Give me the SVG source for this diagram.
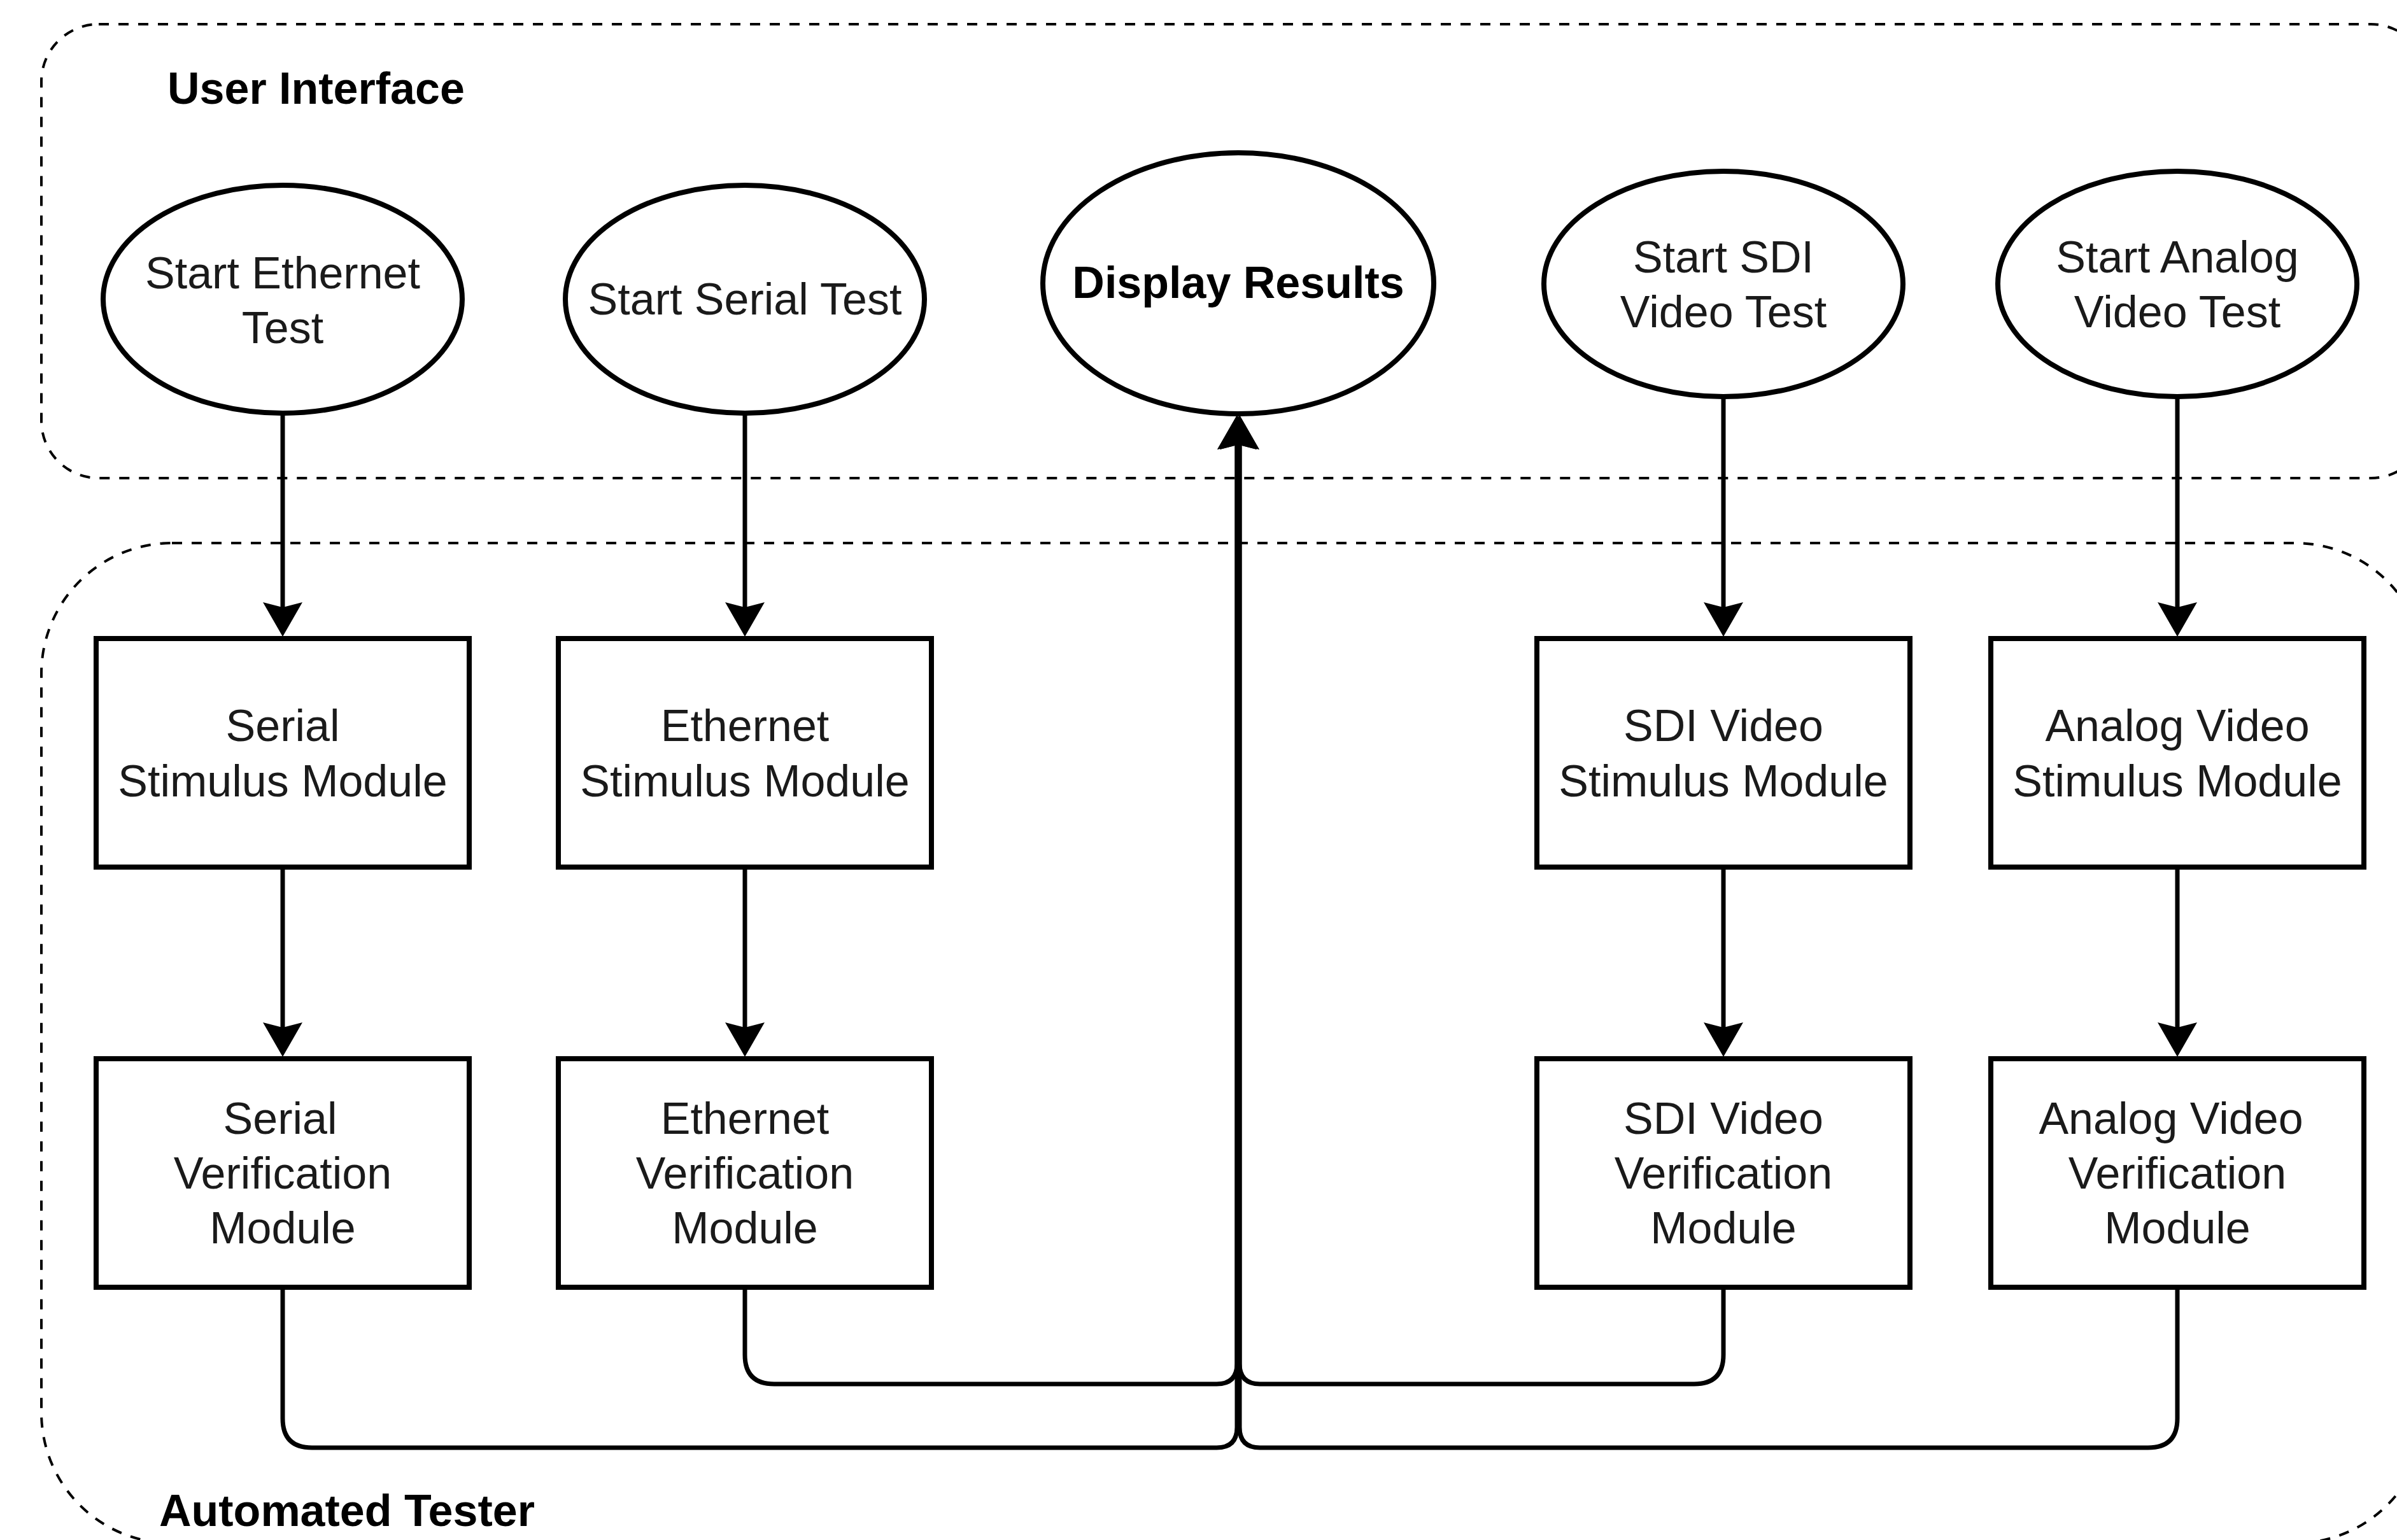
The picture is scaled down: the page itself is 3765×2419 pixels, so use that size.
<svg xmlns="http://www.w3.org/2000/svg" width="3765" height="2419" viewBox="0 0 3765 2419">
<style>
.container{fill:none;stroke:#000;stroke-width:4;stroke-dasharray:16 15}
.node{fill:#fff;stroke:#000;stroke-width:8}
.edge{fill:none;stroke:#000;stroke-width:7}
.lbl{font-family:"Liberation Sans",Arial,sans-serif;font-size:70px;fill:#1a1a1a;text-anchor:middle}
.bold{font-family:"Liberation Sans",Arial,sans-serif;font-size:70px;font-weight:bold;fill:#000}
</style>
<defs>
<marker id="arrow" markerUnits="userSpaceOnUse" viewBox="0 0 54 62" markerWidth="54" markerHeight="62" refX="8" refY="31" orient="auto">
<path d="M0,0 L54,31 L0,62 L8,31 Z" fill="#000"/>
</marker>
</defs>
<rect width="3765" height="2419" fill="#fff"/>

<g id="user-interface">
<rect class="container" x="65" y="38" width="3749" height="713" rx="90" ry="90"/>
<text class="bold" x="263" y="163">User Interface</text>
</g>

<g id="automated-tester">
<rect class="container" x="65" y="853" width="3745" height="1571" rx="205" ry="205"/>
<text class="bold" x="250" y="2397">Automated Tester</text>
</g>

<g id="connectors">
<path class="edge" d="M444,649 V954" marker-end="url(#arrow)"/>
<path class="edge" d="M1170,649 V954" marker-end="url(#arrow)"/>
<path class="edge" d="M2707,623 V954" marker-end="url(#arrow)"/>
<path class="edge" d="M3420,623 V954" marker-end="url(#arrow)"/>
<path class="edge" d="M444,1362 V1614" marker-end="url(#arrow)"/>
<path class="edge" d="M1170,1362 V1614" marker-end="url(#arrow)"/>
<path class="edge" d="M2707,1362 V1614" marker-end="url(#arrow)"/>
<path class="edge" d="M3420,1362 V1614" marker-end="url(#arrow)"/>
<path class="edge" d="M444,2022 V2228 Q444,2274 490,2274 H1911 Q1943,2274 1943,2242 V698" marker-end="url(#arrow)"/>
<path class="edge" d="M1170,2022 V2128 Q1170,2174 1216,2174 H1911 Q1943,2174 1943,2142 V698" marker-end="url(#arrow)"/>
<path class="edge" d="M2707,2022 V2128 Q2707,2174 2661,2174 H1979 Q1947,2174 1947,2142 V698" marker-end="url(#arrow)"/>
<path class="edge" d="M3420,2022 V2228 Q3420,2274 3374,2274 H1979 Q1947,2274 1947,2242 V698" marker-end="url(#arrow)"/>
</g>

<g id="start-ethernet-test">
<ellipse class="node" cx="444" cy="470" rx="282" ry="179"/>
<text class="lbl" x="444" y="453">Start Ethernet</text>
<text class="lbl" x="444" y="539">Test</text>
</g>
<g id="start-serial-test">
<ellipse class="node" cx="1170" cy="470" rx="282" ry="179"/>
<text class="lbl" x="1170" y="494">Start Serial Test</text>
</g>
<g id="display-results">
<ellipse class="node" cx="1945" cy="445" rx="307" ry="205"/>
<text class="bold" x="1945" y="468" text-anchor="middle">Display Results</text>
</g>
<g id="start-sdi-video-test">
<ellipse class="node" cx="2707" cy="446" rx="282" ry="177"/>
<text class="lbl" x="2707" y="428">Start SDI</text>
<text class="lbl" x="2707" y="514">Video Test</text>
</g>
<g id="start-analog-video-test">
<ellipse class="node" cx="3420" cy="446" rx="282" ry="177"/>
<text class="lbl" x="3420" y="428">Start Analog</text>
<text class="lbl" x="3420" y="514">Video Test</text>
</g>

<g id="serial-stimulus-module">
<rect class="node" x="151" y="1003" width="586" height="359"/>
<text class="lbl" x="444" y="1164">Serial</text>
<text class="lbl" x="444" y="1251">Stimulus Module</text>
</g>
<g id="ethernet-stimulus-module">
<rect class="node" x="877" y="1003" width="586" height="359"/>
<text class="lbl" x="1170" y="1164">Ethernet</text>
<text class="lbl" x="1170" y="1251">Stimulus Module</text>
</g>
<g id="sdi-video-stimulus-module">
<rect class="node" x="2414" y="1003" width="586" height="359"/>
<text class="lbl" x="2707" y="1164">SDI Video</text>
<text class="lbl" x="2707" y="1251">Stimulus Module</text>
</g>
<g id="analog-video-stimulus-module">
<rect class="node" x="3127" y="1003" width="586" height="359"/>
<text class="lbl" x="3420" y="1164">Analog Video</text>
<text class="lbl" x="3420" y="1251">Stimulus Module</text>
</g>

<g id="serial-verification-module">
<rect class="node" x="151" y="1663" width="586" height="359"/>
<text class="lbl" x="440" y="1781">Serial</text>
<text class="lbl" x="444" y="1867">Verification</text>
<text class="lbl" x="444" y="1953">Module</text>
</g>
<g id="ethernet-verification-module">
<rect class="node" x="877" y="1663" width="586" height="359"/>
<text class="lbl" x="1170" y="1781">Ethernet</text>
<text class="lbl" x="1170" y="1867">Verification</text>
<text class="lbl" x="1170" y="1953">Module</text>
</g>
<g id="sdi-video-verification-module">
<rect class="node" x="2414" y="1663" width="586" height="359"/>
<text class="lbl" x="2707" y="1781">SDI Video</text>
<text class="lbl" x="2707" y="1867">Verification</text>
<text class="lbl" x="2707" y="1953">Module</text>
</g>
<g id="analog-video-verification-module">
<rect class="node" x="3127" y="1663" width="586" height="359"/>
<text class="lbl" x="3410" y="1781">Analog Video</text>
<text class="lbl" x="3420" y="1867">Verification</text>
<text class="lbl" x="3420" y="1953">Module</text>
</g>
</svg>
